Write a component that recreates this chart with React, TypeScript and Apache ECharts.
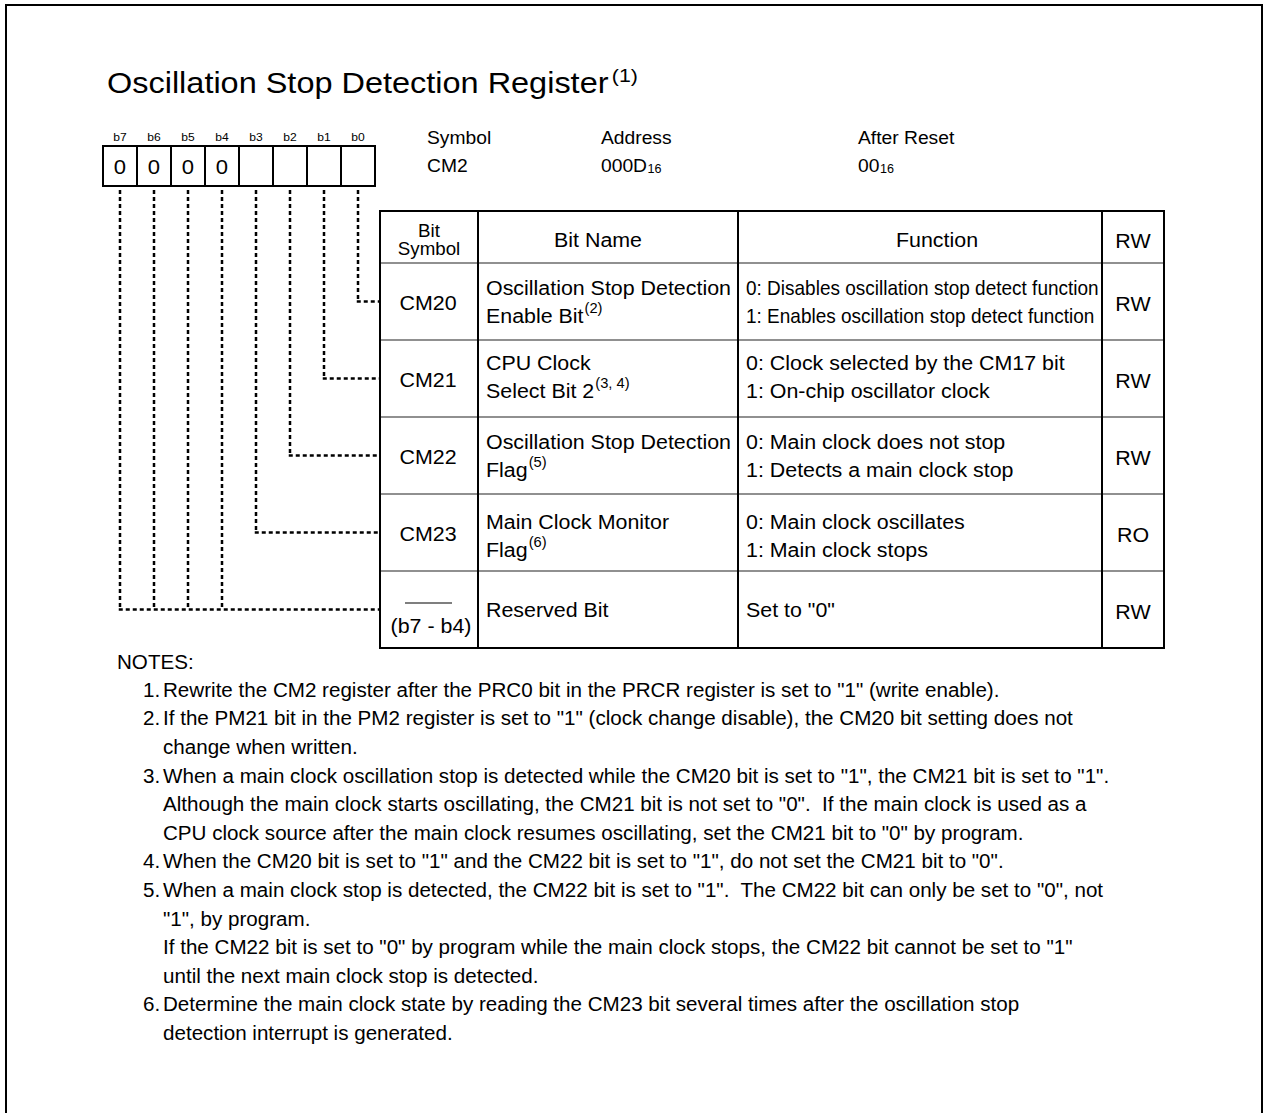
import React, { useEffect, useRef } from 'react';
import * as echarts from 'echarts';

const FONT = '"Liberation Sans", Arial, Helvetica, sans-serif';

// ---------- content ----------
const titleText = 'Oscillation Stop Detection Register';
const titleNote = '(1)';
const bitLabels = ['b7', 'b6', 'b5', 'b4', 'b3', 'b2', 'b1', 'b0'];
const bitValues = ['0', '0', '0', '0', '', '', '', ''];
const infoHeaders = ['Symbol', 'Address', 'After Reset'];
const infoValues = ['CM2', '000D', '00'];
const infoSubscripts = ['', '16', '16'];
const headerSymbol = ['Bit', 'Symbol'];
const headerCols = ['Bit Name', 'Function', 'RW'];
const bitSymbols = ['CM20', 'CM21', 'CM22', 'CM23', '(b7 - b4)'];
const bitNames = [
  ['Oscillation Stop Detection', 'Enable Bit'],
  ['CPU Clock', 'Select Bit 2'],
  ['Oscillation Stop Detection', 'Flag'],
  ['Main Clock Monitor', 'Flag'],
  ['Reserved Bit'],
];
const bitNameNotes = ['(2)', '(3, 4)', '(5)', '(6)', ''];
const bitFunctions = [
  ['0: Disables oscillation stop detect function', '1: Enables oscillation stop detect function'],
  ['0: Clock selected by the CM17 bit', '1: On-chip oscillator clock'],
  ['0: Main clock does not stop', '1: Detects a main clock stop'],
  ['0: Main clock oscillates', '1: Main clock stops'],
  ['Set to "0"'],
];
const bitAccess = ['RW', 'RW', 'RW', 'RO', 'RW'];
const rowBits = [[0], [1], [2], [3], [4, 5, 6, 7]];
const notesTitle = 'NOTES:';
const noteNumbers = ['1.', '2.', '3.', '4.', '5.', '6.'];
const noteLines = [
  ['Rewrite the CM2 register after the PRC0 bit in the PRCR register is set to "1" (write enable).'],
  [
    'If the PM21 bit in the PM2 register is set to "1" (clock change disable), the CM20 bit setting does not',
    'change when written.',
  ],
  [
    'When a main clock oscillation stop is detected while the CM20 bit is set to "1", the CM21 bit is set to "1".',
    'Although the main clock starts oscillating, the CM21 bit is not set to "0".  If the main clock is used as a',
    'CPU clock source after the main clock resumes oscillating, set the CM21 bit to "0" by program.',
  ],
  ['When the CM20 bit is set to "1" and the CM22 bit is set to "1", do not set the CM21 bit to "0".'],
  [
    'When a main clock stop is detected, the CM22 bit is set to "1".  The CM22 bit can only be set to "0", not',
    '"1", by program.',
    'If the CM22 bit is set to "0" by program while the main clock stops, the CM22 bit cannot be set to "1"',
    'until the next main clock stop is detected.',
  ],
  [
    'Determine the main clock state by reading the CM23 bit several times after the oscillation stop',
    'detection interrupt is generated.',
  ],
];

// ---------- layout ----------
const W = 1264;
const H = 1113;
const BOX_X = 103;
const BOX_Y = 146;
const CELL = 34;
const BOX_H = 40;
const COLS = [380, 478, 738, 1102, 1164];
const ROWS = [211, 263, 340, 417, 494, 571, 648];
const ROW_SHIFT = [0, -2, 0, 3, 0];
const TABLE_SIZE = 20;
const TABLE_SX = 1.07;
const FUNC_SX = [0.95, 1.07, 1.07, 1.07, 1.07];
const NOTE_SIZE = 20;
const NOTE_SX = 1.03;
const NOTE_Y0 = 690;
const NOTE_STEP = 28.6;

let measureCtx: CanvasRenderingContext2D | null = null;
function measure(text: string, size: number): number {
  if (!measureCtx) measureCtx = document.createElement('canvas').getContext('2d');
  if (!measureCtx) return text.length * size * 0.5;
  measureCtx.font = `${size}px ${FONT}`;
  return measureCtx.measureText(text).width;
}

function txt(
  x: number,
  y: number,
  text: string,
  size: number,
  align: 'left' | 'center' | 'right' = 'left',
  sx = 1
): any {
  return {
    type: 'text',
    x,
    y,
    scaleX: sx,
    silent: true,
    style: {
      text,
      fontSize: size,
      fontFamily: FONT,
      fill: '#000',
      align,
      verticalAlign: 'middle',
    },
  };
}

function line(x1: number, y1: number, x2: number, y2: number, w = 2, dash?: number[], color = '#000'): any {
  return {
    type: 'line',
    silent: true,
    shape: { x1, y1, x2, y2 },
    style: { stroke: color, lineWidth: w, lineDash: dash || null, fill: null },
  };
}

function buildElements(): any[] {
  const els: any[] = [];
  // page border
  els.push({
    type: 'rect',
    silent: true,
    shape: { x: 6, y: 5, width: 1256, height: 1200 },
    style: { fill: 'none', stroke: '#000', lineWidth: 2 },
  });

  // title
  const tSize = 29;
  const tSx = 1.12;
  els.push(txt(107, 83, titleText, tSize, 'left', tSx));
  els.push(txt(107 + measure(titleText, tSize) * tSx + 3, 75, titleNote, 19, 'left', 1.12));

  // bit box
  bitLabels.forEach((lb, i) => {
    const cx = BOX_X + CELL * i + CELL / 2;
    els.push(txt(cx, 137, lb, 11.5, 'center', 1.05));
    if (bitValues[i]) els.push(txt(cx, 167, bitValues[i], 21, 'center', 1.05));
    if (i > 0) els.push(line(BOX_X + CELL * i, BOX_Y, BOX_X + CELL * i, BOX_Y + BOX_H, 2));
  });
  els.push({
    type: 'rect',
    silent: true,
    shape: { x: BOX_X, y: BOX_Y, width: CELL * 8, height: BOX_H },
    style: { fill: 'none', stroke: '#000', lineWidth: 2 },
  });

  // info header
  const infoX = [427, 601, 858];
  infoHeaders.forEach((h, i) => {
    els.push(txt(infoX[i], 138, h, 18, 'left', 1.07));
    els.push(txt(infoX[i], 166, infoValues[i], 18, 'left', 1.07));
    if (infoSubscripts[i]) {
      const w = measure(infoValues[i], 18) * 1.07;
      els.push(txt(infoX[i] + w + 0.5, 169, infoSubscripts[i], 12, 'left', 1.05));
    }
  });

  // dotted connectors
  const dash = [4, 3];
  rowBits.forEach((bits, r) => {
    const yc = (ROWS[r + 1] + ROWS[r + 2]) / 2;
    let minX = Infinity;
    bits.forEach((b) => {
      const idx = 7 - b;
      const x = BOX_X + CELL * idx + CELL / 2;
      minX = Math.min(minX, x);
      els.push(line(x, 190, x, yc, 2.5, dash));
    });
    els.push(line(minX - 1.25, yc, COLS[0], yc, 2.5, dash));
  });

  // table grid
  for (let r = 1; r < ROWS.length - 1; r++) {
    els.push(line(COLS[0], ROWS[r], COLS[4], ROWS[r], 1.2, undefined, '#222'));
  }
  for (let c = 1; c < COLS.length - 1; c++) {
    els.push(line(COLS[c], ROWS[0], COLS[c], ROWS[ROWS.length - 1], 2));
  }
  els.push({
    type: 'rect',
    silent: true,
    shape: { x: COLS[0], y: ROWS[0], width: COLS[4] - COLS[0], height: ROWS[ROWS.length - 1] - ROWS[0] },
    style: { fill: 'none', stroke: '#000', lineWidth: 2 },
  });

  // table header
  els.push(txt(429, 231, headerSymbol[0], 17.5, 'center', 1.07));
  els.push(txt(429, 249, headerSymbol[1], 17.5, 'center', 1.07));
  els.push(txt(598, 240, headerCols[0], TABLE_SIZE, 'center', TABLE_SX));
  els.push(txt(937, 240, headerCols[1], TABLE_SIZE, 'center', TABLE_SX));
  els.push(txt(1133, 241, headerCols[2], TABLE_SIZE, 'center', TABLE_SX));

  // table rows
  bitSymbols.forEach((sym, r) => {
    const top = ROWS[r + 1];
    const yc = (ROWS[r + 1] + ROWS[r + 2]) / 2;
    const sh = ROW_SHIFT[r];
    const ly = [top + 25 + sh, top + 53 + sh];
    if (r < 4) {
      els.push(txt(428, yc + 1.5, sym, TABLE_SIZE, 'center', TABLE_SX));
    } else {
      els.push(line(405, 603, 452, 603, 1.2));
      els.push(txt(431, 626, sym, TABLE_SIZE, 'center', TABLE_SX));
    }
    const names = bitNames[r];
    const fns = bitFunctions[r];
    if (names.length === 1) {
      els.push(txt(486, yc, names[0], TABLE_SIZE, 'left', TABLE_SX));
    } else {
      names.forEach((n, k) => {
        els.push(txt(486, ly[k], n, TABLE_SIZE, 'left', TABLE_SX));
      });
      if (bitNameNotes[r]) {
        const w = measure(names[names.length - 1], TABLE_SIZE) * TABLE_SX;
        els.push(txt(486 + w + 1, ly[1] - 8, bitNameNotes[r], 14, 'left', 1.05));
      }
    }
    if (fns.length === 1) {
      els.push(txt(746, yc, fns[0], TABLE_SIZE, 'left', FUNC_SX[r]));
    } else {
      fns.forEach((f, k) => {
        els.push(txt(746, ly[k], f, TABLE_SIZE, 'left', FUNC_SX[r]));
      });
    }
    els.push(txt(1133, yc + 2, bitAccess[r], TABLE_SIZE, 'center', TABLE_SX));
  });

  // notes
  els.push(txt(117, 662, notesTitle, NOTE_SIZE, 'left', NOTE_SX));
  let li = 0;
  noteLines.forEach((lines, n) => {
    lines.forEach((l, k) => {
      const y = NOTE_Y0 + NOTE_STEP * li;
      if (k === 0) els.push(txt(143, y, noteNumbers[n], NOTE_SIZE, 'left', NOTE_SX));
      els.push(txt(163, y, l, NOTE_SIZE, 'left', NOTE_SX));
      li++;
    });
  });
  return els;
}

export default function App() {
  const ref = useRef<HTMLDivElement>(null);
  useEffect(() => {
    if (!ref.current) return;
    const chart = echarts.init(ref.current, null, { renderer: 'svg' });
    chart.setOption({
      animation: false,
      backgroundColor: '#fff',
      graphic: { elements: buildElements() },
    });
    return () => chart.dispose();
  }, []);
  return (
    <div
      ref={ref}
      style={{ position: 'absolute', left: 0, top: 0, width: W, height: H, background: '#fff' }}
    />
  );
}
